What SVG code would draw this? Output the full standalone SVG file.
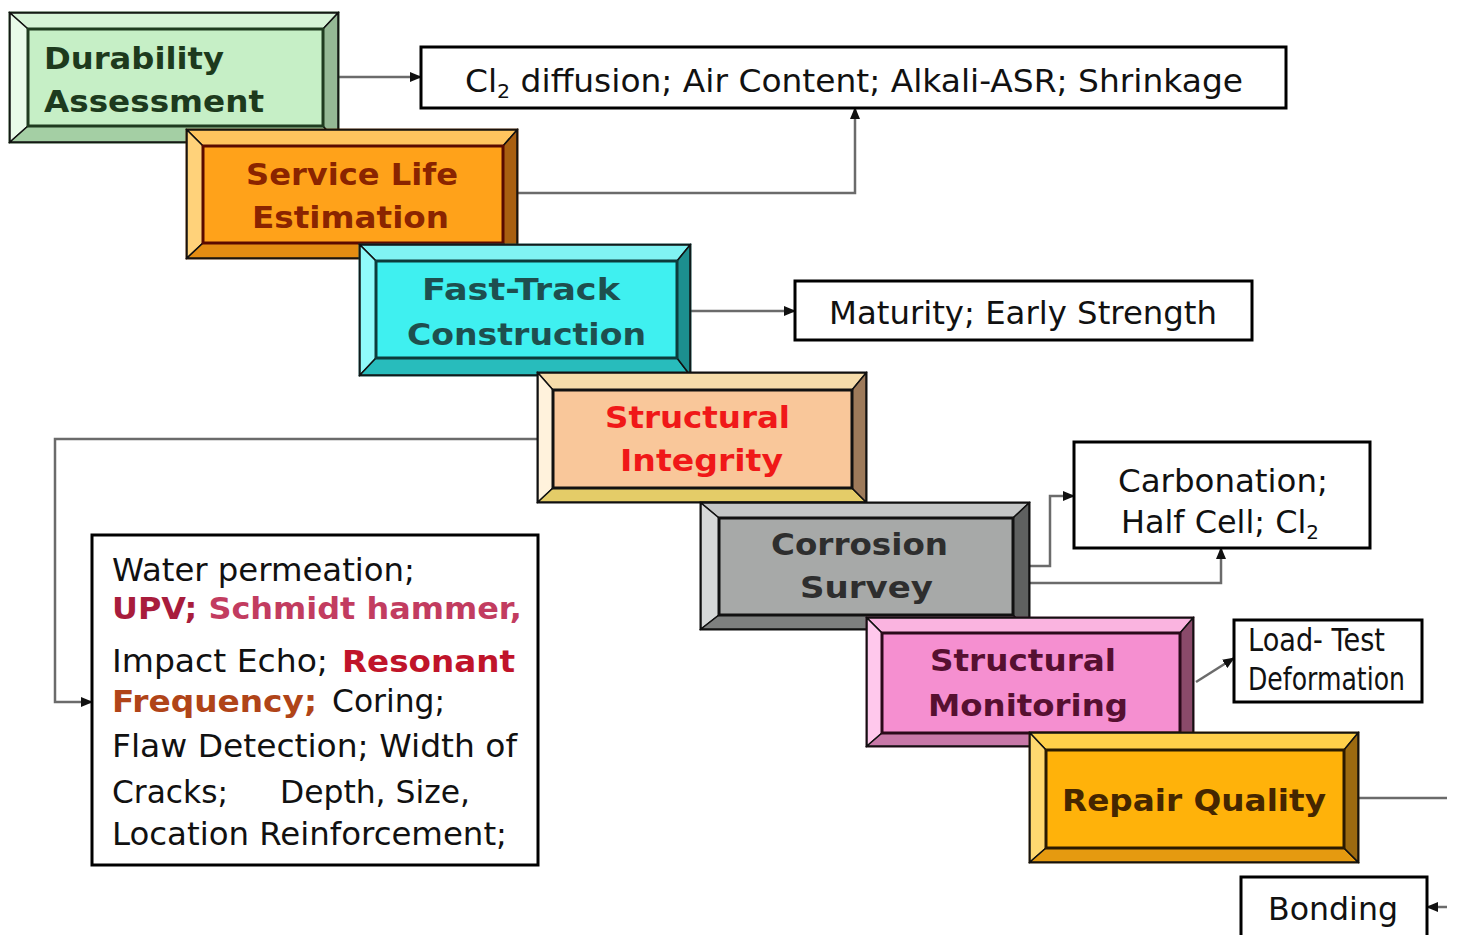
<svg xmlns="http://www.w3.org/2000/svg" width="1458" height="935" viewBox="0 0 1458 935">
<defs>
<marker id="ah" markerUnits="userSpaceOnUse" markerWidth="12" markerHeight="10" refX="11" refY="5" orient="auto">
<path d="M0,0 L12,5 L0,10 Z" fill="#111"/>
</marker>
<style>
.conn{fill:none;stroke:#6b6b6b;stroke-width:2.5}
.edge{stroke:#111;stroke-width:1.5;stroke-linejoin:miter}
.inner{fill:none;stroke-width:3}
.outer{stroke-width:3}
.lbl{font-family:"DejaVu Sans",Verdana,sans-serif;font-weight:bold;font-size:31px}
.txt{font-family:"DejaVu Sans",Verdana,sans-serif;font-size:32px;fill:#111}
.txtb{font-family:"DejaVu Sans",Verdana,sans-serif;font-size:30px;font-weight:bold}
.box{fill:#fff;stroke:#000;stroke-width:3}
</style>
</defs>
<rect width="1458" height="935" fill="#fff"/>

<g id="connectors">
<path class="conn" d="M338,77 H421" marker-end="url(#ah)"/>
<path class="conn" d="M517,193 H855 V108" marker-end="url(#ah)"/>
<path class="conn" d="M690,311 H795" marker-end="url(#ah)"/>
<path class="conn" d="M538,439 H55 V702 H92" marker-end="url(#ah)"/>
<path class="conn" d="M1030,566 H1050 V496 H1074" marker-end="url(#ah)"/>
<path class="conn" d="M1030,583 H1221 V548" marker-end="url(#ah)"/>
<path class="conn" d="M1196,682 L1234,658" marker-end="url(#ah)"/>
<path class="conn" d="M1358,798 H1447"/>
<path class="conn" d="M1447,907 H1427" marker-end="url(#ah)"/>
</g>

<g id="durability-assessment">
<rect class="outer" x="10" y="13" width="328" height="129" fill="#c6efc6" stroke="#1f3b1f"/>
<polygon class="edge" points="10,13 338,13 323,29 28,29" fill="#d6f3d6"/>
<polygon class="edge" points="10,13 28,29 28,126 10,142" fill="#e8fae8"/>
<polygon class="edge" points="10,142 28,126 323,126 338,142" fill="#a4cfa4"/>
<polygon class="edge" points="338,13 338,142 323,126 323,29" fill="#95b995"/>
<rect class="inner" x="28" y="29" width="295" height="97" stroke="#1f3b1f"/>
<text class="lbl" fill="#1d3a1d" x="44" y="69" textLength="180" lengthAdjust="spacingAndGlyphs">Durability</text>
<text class="lbl" fill="#1d3a1d" x="44" y="112" textLength="220" lengthAdjust="spacingAndGlyphs">Assessment</text>
</g>

<g id="cl-diffusion">
<rect class="box" x="421" y="47" width="865" height="61"/>
<text class="txt" x="465" y="92" textLength="778" lengthAdjust="spacingAndGlyphs">Cl<tspan font-size="20" dy="6">2</tspan><tspan dy="-6"> diffusion; Air Content; Alkali-ASR; Shrinkage</tspan></text>
</g>

<g id="service-life-estimation">
<rect class="outer" x="187" y="130" width="330" height="128" fill="#ffa21a" stroke="#3a1a00"/>
<polygon class="edge" points="187,130 517,130 503,146 203,146" fill="#ffc45e"/>
<polygon class="edge" points="187,130 203,146 203,243 187,258" fill="#ffd27a"/>
<polygon class="edge" points="187,258 203,243 503,243 517,258" fill="#e48c12"/>
<polygon class="edge" points="517,130 517,258 503,243 503,146" fill="#a95f10"/>
<rect class="inner" x="203" y="146" width="300" height="97" stroke="#5a0a00"/>
<text class="lbl" fill="#8a2400" x="246" y="185" textLength="212" lengthAdjust="spacingAndGlyphs">Service Life</text>
<text class="lbl" fill="#8a2400" x="252" y="228" textLength="197" lengthAdjust="spacingAndGlyphs">Estimation</text>
</g>

<g id="fast-track-construction">
<rect class="outer" x="360" y="245" width="330" height="130" fill="#3ff0f0" stroke="#0c3c3c"/>
<polygon class="edge" points="360,245 690,245 677,261 376,261" fill="#80f2f2"/>
<polygon class="edge" points="360,245 376,261 376,358 360,375" fill="#90fafa"/>
<polygon class="edge" points="360,375 376,358 677,358 690,375" fill="#28bcbc"/>
<polygon class="edge" points="690,245 690,375 677,358 677,261" fill="#1c8f8f"/>
<rect class="inner" x="376" y="261" width="301" height="97" stroke="#0c3c3c"/>
<text class="lbl" fill="#1e4f4f" x="422" y="300" textLength="198" lengthAdjust="spacingAndGlyphs">Fast-Track</text>
<text class="lbl" fill="#1e4f4f" x="407" y="345" textLength="239" lengthAdjust="spacingAndGlyphs">Construction</text>
</g>

<g id="maturity">
<rect class="box" x="795" y="281" width="457" height="59"/>
<text class="txt" x="829" y="324" textLength="388" lengthAdjust="spacingAndGlyphs">Maturity; Early Strength</text>
</g>

<g id="structural-integrity">
<rect class="outer" x="538" y="373" width="328" height="129" fill="#f9c79a" stroke="#111"/>
<polygon class="edge" points="538,373 866,373 852,390 553,390" fill="#f6dcaa"/>
<polygon class="edge" points="538,373 553,390 553,488 538,502" fill="#fff2dc"/>
<polygon class="edge" points="538,502 553,488 852,488 866,502" fill="#e4cc68"/>
<polygon class="edge" points="866,373 866,502 852,488 852,390" fill="#9d7a5a"/>
<rect class="inner" x="553" y="390" width="299" height="98" stroke="#111"/>
<text class="lbl" fill="#f01818" x="605" y="428" textLength="185" lengthAdjust="spacingAndGlyphs">Structural</text>
<text class="lbl" fill="#f01818" x="620" y="471" textLength="163" lengthAdjust="spacingAndGlyphs">Integrity</text>
</g>

<g id="water-permeation">
<rect class="box" x="92" y="535" width="446" height="330"/>
<text class="txt" x="112" y="581" textLength="303" lengthAdjust="spacingAndGlyphs">Water permeation;</text>
<text class="txtb" font-size="27" x="112" y="619" textLength="410" lengthAdjust="spacingAndGlyphs"><tspan fill="#a81c3c">UPV;</tspan><tspan fill="#c23c60"> Schmidt hammer,</tspan></text>
<text class="txt" x="112" y="672" textLength="216" lengthAdjust="spacingAndGlyphs">Impact Echo;</text>
<text class="txtb" fill="#c0142a" x="342" y="672" textLength="173" lengthAdjust="spacingAndGlyphs">Resonant</text>
<text class="txtb" fill="#b04418" x="112" y="712" textLength="205" lengthAdjust="spacingAndGlyphs">Frequency;</text>
<text class="txt" x="332" y="712" textLength="113" lengthAdjust="spacingAndGlyphs">Coring;</text>
<text class="txt" x="112" y="757" textLength="405" lengthAdjust="spacingAndGlyphs">Flaw Detection; Width of</text>
<text class="txt" x="112" y="803" textLength="116" lengthAdjust="spacingAndGlyphs">Cracks;</text>
<text class="txt" x="280" y="803" textLength="190" lengthAdjust="spacingAndGlyphs">Depth, Size,</text>
<text class="txt" x="112" y="845" textLength="395" lengthAdjust="spacingAndGlyphs">Location Reinforcement;</text>
</g>

<g id="corrosion-survey">
<rect class="outer" x="701" y="503" width="328" height="126" fill="#a7a9a8" stroke="#111"/>
<polygon class="edge" points="701,503 1029,503 1013,518 719,518" fill="#c4c6c6"/>
<polygon class="edge" points="701,503 719,518 719,615 701,629" fill="#d6d8d8"/>
<polygon class="edge" points="701,629 719,615 1013,615 1029,629" fill="#7e807f"/>
<polygon class="edge" points="1029,503 1029,629 1013,615 1013,518" fill="#5f6160"/>
<rect class="inner" x="719" y="518" width="294" height="97" stroke="#111"/>
<text class="lbl" fill="#2e2e2e" x="771" y="555" textLength="177" lengthAdjust="spacingAndGlyphs">Corrosion</text>
<text class="lbl" fill="#2e2e2e" x="800" y="598" textLength="133" lengthAdjust="spacingAndGlyphs">Survey</text>
</g>

<g id="carbonation">
<rect class="box" x="1074" y="442" width="296" height="106"/>
<text class="txt" x="1118" y="492" textLength="210" lengthAdjust="spacingAndGlyphs">Carbonation;</text>
<text class="txt" x="1121" y="533" textLength="198" lengthAdjust="spacingAndGlyphs">Half Cell; Cl<tspan font-size="20" dy="6">2</tspan></text>
</g>

<g id="structural-monitoring">
<rect class="outer" x="867" y="618" width="326" height="128" fill="#f58fd0" stroke="#2a0a1a"/>
<polygon class="edge" points="867,618 1193,618 1180,633 882,633" fill="#fab4e0"/>
<polygon class="edge" points="867,618 882,633 882,733 867,746" fill="#ffc8ec"/>
<polygon class="edge" points="867,746 882,733 1180,733 1193,746" fill="#c878a8"/>
<polygon class="edge" points="1193,618 1193,746 1180,733 1180,633" fill="#8a4a6a"/>
<rect class="inner" x="882" y="633" width="298" height="100" stroke="#2a0a1a"/>
<text class="lbl" fill="#561030" x="930" y="671" textLength="186" lengthAdjust="spacingAndGlyphs">Structural</text>
<text class="lbl" fill="#561030" x="928" y="716" textLength="200" lengthAdjust="spacingAndGlyphs">Monitoring</text>
</g>

<g id="load-test">
<rect class="box" x="1234" y="620" width="188" height="82"/>
<text class="txt" font-size="22" x="1248" y="651" textLength="137" lengthAdjust="spacingAndGlyphs">Load- Test</text>
<text class="txt" font-size="22" x="1248" y="690" textLength="157" lengthAdjust="spacingAndGlyphs">Deformation</text>
</g>

<g id="repair-quality">
<rect class="outer" x="1030" y="733" width="328" height="129" fill="#ffb20a" stroke="#2a1a00"/>
<polygon class="edge" points="1030,733 1358,733 1344,750 1046,750" fill="#ffd04a"/>
<polygon class="edge" points="1030,733 1046,750 1046,848 1030,862" fill="#ffd870"/>
<polygon class="edge" points="1030,862 1046,848 1344,848 1358,862" fill="#e59a10"/>
<polygon class="edge" points="1358,733 1358,862 1344,848 1344,750" fill="#9c6a10"/>
<rect class="inner" x="1046" y="750" width="298" height="98" stroke="#2a1a00"/>
<text class="lbl" fill="#452600" x="1062" y="811" textLength="264" lengthAdjust="spacingAndGlyphs">Repair Quality</text>
</g>

<g id="bonding">
<rect class="box" x="1241" y="877" width="186" height="70"/>
<text class="txt" x="1268" y="920" textLength="130" lengthAdjust="spacingAndGlyphs">Bonding</text>
</g>
</svg>
